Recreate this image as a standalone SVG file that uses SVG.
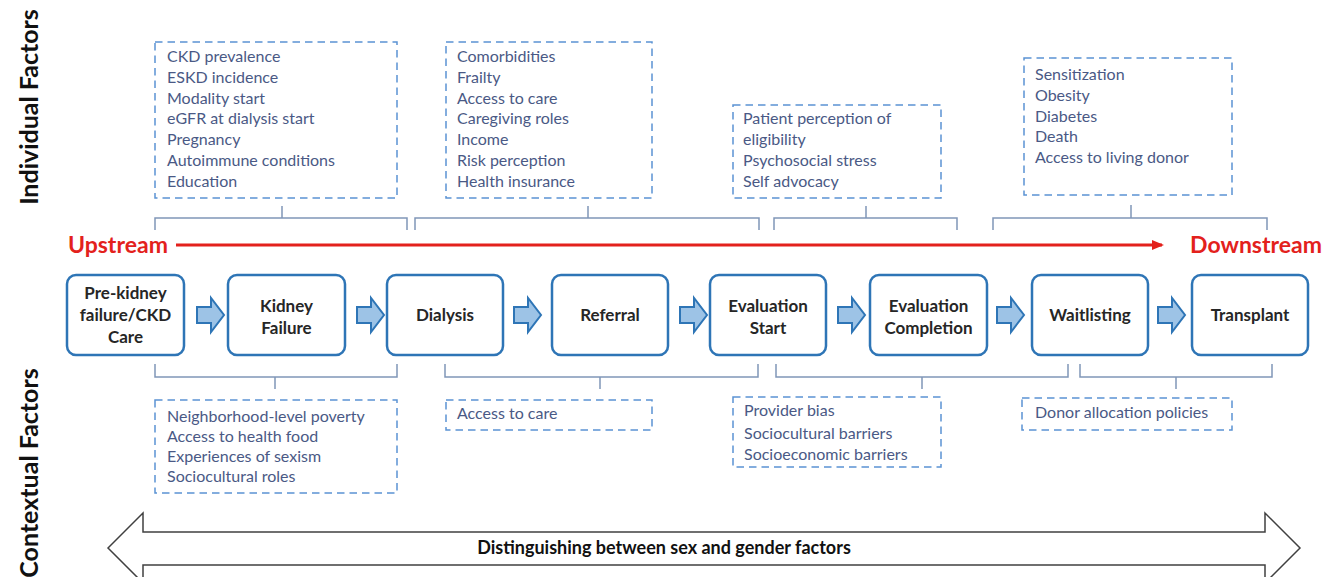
<svg xmlns="http://www.w3.org/2000/svg" width="1327" height="577" viewBox="0 0 1327 577">
  <defs>
    <style>
      .side { font-family: Lato, "Liberation Sans", sans-serif; font-weight: bold; font-size: 25px; fill: #111; text-anchor: middle; }
      .flow { font-family: Lato, "Liberation Sans", sans-serif; font-weight: bold; font-size: 23px; fill: #e3211c; }
      .node rect { fill: #fff; stroke: #2e75b6; stroke-width: 2.5; }
      .node text { font-family: Lato, "Liberation Sans", sans-serif; font-weight: bold; font-size: 17px; fill: #262626; text-anchor: middle; }
      .factor rect { fill: #fff; stroke: #5b93d3; stroke-width: 1.5; stroke-dasharray: 7.5 5; }
      .factor text { font-family: Lato, "Liberation Sans", sans-serif; font-size: 16px; fill: #4a5985; }
      .bracket { fill: none; stroke: #8096b8; stroke-width: 1.5; }
      .step { fill: #9dc3e6; stroke: #2e75b6; stroke-width: 2; stroke-linejoin: miter; }
      .span { fill: #fff; stroke: #404040; stroke-width: 1.5; }
      .span-label { font-family: Lato, "Liberation Sans", sans-serif; font-weight: bold; font-size: 18px; fill: #111; text-anchor: middle; }
    </style>
    <marker id="redHead" markerWidth="12" markerHeight="10" refX="10" refY="5" orient="auto" markerUnits="userSpaceOnUse">
      <path d="M0,0 L12,5 L0,10 Z" fill="#e3211c"/>
    </marker>
    <path id="stepArrow" d="M0,-8 L14,-8 L14,-17 L27,0 L14,17 L14,8 L0,8 Z"/>
  </defs>

  <rect width="1327" height="577" fill="#fff"/>

  <!-- side labels -->
  <text class="side" transform="translate(38,107) rotate(-90)">Individual Factors</text>
  <text class="side" transform="translate(38,473) rotate(-90)">Contextual Factors</text>

  <!-- individual factor boxes -->
  <g id="ind-ckd" class="factor">
    <rect x="155" y="42" width="242" height="156"/>
    <text x="167" y="62">CKD prevalence</text>
    <text x="167" y="83">ESKD incidence</text>
    <text x="167" y="104">Modality start</text>
    <text x="167" y="124">eGFR at dialysis start</text>
    <text x="167" y="145">Pregnancy</text>
    <text x="167" y="166">Autoimmune conditions</text>
    <text x="167" y="187">Education</text>
  </g>
  <g id="ind-dialysis" class="factor">
    <rect x="446" y="42" width="206" height="156"/>
    <text x="457" y="62">Comorbidities</text>
    <text x="457" y="83">Frailty</text>
    <text x="457" y="104">Access to care</text>
    <text x="457" y="124">Caregiving roles</text>
    <text x="457" y="145">Income</text>
    <text x="457" y="166">Risk perception</text>
    <text x="457" y="187">Health insurance</text>
  </g>
  <g id="ind-evaluation" class="factor">
    <rect x="733" y="105" width="208" height="93"/>
    <text x="743" y="124">Patient perception of</text>
    <text x="743" y="145">eligibility</text>
    <text x="743" y="166">Psychosocial stress</text>
    <text x="743" y="187">Self advocacy</text>
  </g>
  <g id="ind-waitlist" class="factor">
    <rect x="1024" y="58" width="208" height="137"/>
    <text x="1035" y="80">Sensitization</text>
    <text x="1035" y="101">Obesity</text>
    <text x="1035" y="122">Diabetes</text>
    <text x="1035" y="142">Death</text>
    <text x="1035" y="163">Access to living donor</text>
  </g>

  <!-- contextual factor boxes -->
  <g id="ctx-ckd" class="factor">
    <rect x="155" y="400" width="242" height="93"/>
    <text x="167" y="422">Neighborhood-level poverty</text>
    <text x="167" y="442">Access to health food</text>
    <text x="167" y="462">Experiences of sexism</text>
    <text x="167" y="482">Sociocultural roles</text>
  </g>
  <g id="ctx-dialysis" class="factor">
    <rect x="446" y="400" width="206" height="30"/>
    <text x="457" y="419">Access to care</text>
  </g>
  <g id="ctx-evaluation" class="factor">
    <rect x="733" y="397" width="208" height="70"/>
    <text x="744" y="416">Provider bias</text>
    <text x="744" y="439">Sociocultural barriers</text>
    <text x="744" y="460">Socioeconomic barriers</text>
  </g>
  <g id="ctx-waitlist" class="factor">
    <rect x="1022" y="398" width="210" height="32"/>
    <text x="1035" y="418">Donor allocation policies</text>
  </g>

  <!-- stage nodes -->
  <g id="n-preckd" class="node">
    <rect x="67" y="275" width="117" height="80" rx="9"/>
    <text x="125.5" y="299">Pre-kidney</text>
    <text x="125.5" y="321">failure/CKD</text>
    <text x="125.5" y="343">Care</text>
  </g>
  <g id="n-failure" class="node">
    <rect x="228" y="275" width="117" height="80" rx="9"/>
    <text x="286.5" y="312">Kidney</text>
    <text x="286.5" y="334">Failure</text>
  </g>
  <g id="n-dialysis" class="node">
    <rect x="387" y="275" width="116" height="80" rx="9"/>
    <text x="445" y="321">Dialysis</text>
  </g>
  <g id="n-referral" class="node">
    <rect x="552" y="275" width="116" height="80" rx="9"/>
    <text x="610" y="321">Referral</text>
  </g>
  <g id="n-evalstart" class="node">
    <rect x="710" y="275" width="116" height="80" rx="9"/>
    <text x="768" y="312">Evaluation</text>
    <text x="768" y="334">Start</text>
  </g>
  <g id="n-evalcomplete" class="node">
    <rect x="870" y="275" width="117" height="80" rx="9"/>
    <text x="928.5" y="312">Evaluation</text>
    <text x="928.5" y="334">Completion</text>
  </g>
  <g id="n-waitlist" class="node">
    <rect x="1032" y="275" width="116" height="80" rx="9"/>
    <text x="1090" y="321">Waitlisting</text>
  </g>
  <g id="n-transplant" class="node">
    <rect x="1192" y="275" width="116" height="80" rx="9"/>
    <text x="1250" y="321">Transplant</text>
  </g>

  <!-- connectors -->
  <g id="connectors">
    <!-- upstream / downstream axis -->
    <text class="flow" x="68" y="253">Upstream</text>
    <line x1="176" y1="245" x2="1162" y2="245" stroke="#e3211c" stroke-width="3" marker-end="url(#redHead)"/>
    <text class="flow" x="1322" y="253" text-anchor="end">Downstream</text>

    <!-- step arrows between stages -->
    <use href="#stepArrow" class="step" x="197" y="315"/>
    <use href="#stepArrow" class="step" x="357" y="315"/>
    <use href="#stepArrow" class="step" x="514" y="315"/>
    <use href="#stepArrow" class="step" x="680" y="315"/>
    <use href="#stepArrow" class="step" x="838" y="315"/>
    <use href="#stepArrow" class="step" x="997" y="315"/>
    <use href="#stepArrow" class="step" x="1158" y="315"/>

    <!-- upper brackets -->
    <path class="bracket" d="M155,230 V218 H407 V230 M282,206 V218"/>
    <path class="bracket" d="M415,230 V218 H759 V230 M588,206 V218"/>
    <path class="bracket" d="M774,230 V218 H957 V230 M866,206 V218"/>
    <path class="bracket" d="M993,230 V218 H1267 V230 M1131,205 V218"/>

    <!-- lower brackets -->
    <path class="bracket" d="M155,364 V377 H397 V364 M275,377 V389"/>
    <path class="bracket" d="M445,364 V377 H758 V364 M600,377 V389"/>
    <path class="bracket" d="M776,364 V377 H1068 V364 M922,377 V389"/>
    <path class="bracket" d="M1080,364 V377 H1272 V364 M1176,377 V389"/>

    <!-- sex / gender span arrow -->
    <path class="span" d="M108,548 L143,513 L143,532 L1265,532 L1265,513 L1300,548 L1265,583 L1265,565 L143,565 L143,583 Z"/>
    <text class="span-label" x="664" y="554">Distinguishing between sex and gender factors</text>
  </g>
</svg>
